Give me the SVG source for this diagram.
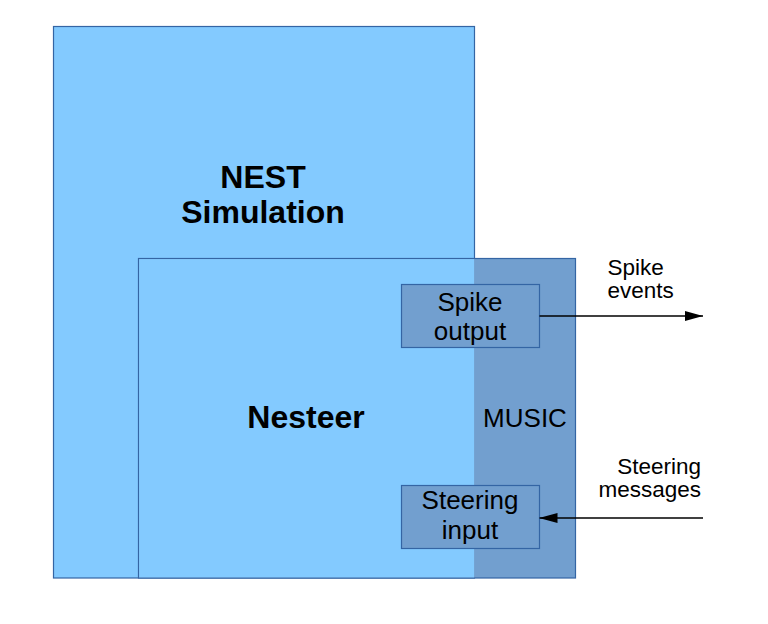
<svg xmlns="http://www.w3.org/2000/svg" width="768" height="624" viewBox="0 0 768 624">
<style>
.light{fill:#83caff;stroke:#3465a4;stroke-width:1.2}
.dark{fill:#729fcf;stroke:#3465a4;stroke-width:1.2}
.t{font-family:"Liberation Sans",Arial,sans-serif;fill:#000}
.b{font-weight:bold;font-size:32px}
.r{font-size:26px}
.s{font-size:22.5px}
.con{stroke:#000;stroke-width:1.3;fill:none}
</style>
<defs>
<marker id="ah" viewBox="0 0 18 10" refX="18" refY="5" markerWidth="18" markerHeight="10" markerUnits="userSpaceOnUse" orient="auto">
<path d="M0,0 L18,5 L0,10 Z" fill="#000"/>
</marker>
</defs>
<rect width="768" height="624" fill="#fff"/>
<g id="nest">
<rect class="light" x="53.5" y="26.5" width="421" height="551.5"/>
<text class="t b" x="263" y="188" text-anchor="middle">NEST</text>
<text class="t b" x="263" y="223" text-anchor="middle">Simulation</text>
</g>
<g id="music">
<rect class="dark" x="138.5" y="258.5" width="437" height="319.5"/>
<text class="t r" x="525" y="427" text-anchor="middle">MUSIC</text>
</g>
<g id="nesteer">
<rect x="139.1" y="259.1" width="335" height="318.3" fill="#83caff"/>
<text class="t b" x="306" y="428" text-anchor="middle">Nesteer</text>
</g>
<g id="spike-output">
<rect class="dark" x="401.5" y="284.5" width="138" height="63"/>
<text class="t r" x="470" y="311" text-anchor="middle">Spike</text>
<text class="t r" x="470" y="340" text-anchor="middle">output</text>
</g>
<g id="steering-input">
<rect class="dark" x="401.5" y="485.5" width="138" height="63"/>
<text class="t r" x="470" y="509" text-anchor="middle">Steering</text>
<text class="t r" x="470" y="539" text-anchor="middle">input</text>
</g>
<g id="connectors">
<line class="con" x1="539.5" y1="316" x2="703" y2="316" marker-end="url(#ah)"/>
<line class="con" x1="703" y1="518" x2="539.5" y2="518" marker-end="url(#ah)"/>
</g>
<g id="labels">
<text class="t s" x="607.5" y="275">Spike</text>
<text class="t s" x="607.5" y="298">events</text>
<text class="t s" x="701" y="474" text-anchor="end">Steering</text>
<text class="t s" x="701" y="497" text-anchor="end">messages</text>
</g>
</svg>
